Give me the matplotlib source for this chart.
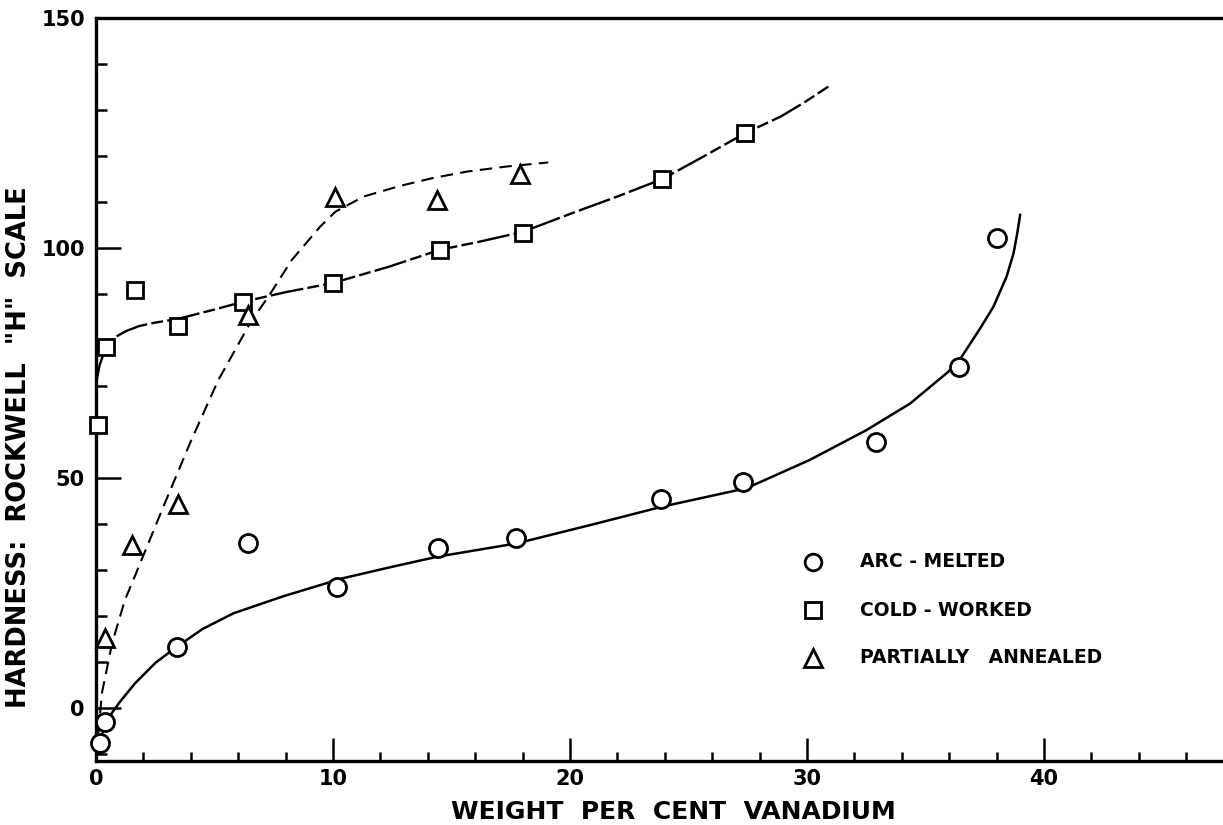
import matplotlib
matplotlib.use("Agg")
import matplotlib.pyplot as plt
from matplotlib.ticker import MultipleLocator

# measured points, weight % V vs Rockwell H hardness
arc_x = [0.15, 0.38, 3.4, 6.4, 10.16, 14.42, 17.72, 23.83, 27.31, 32.9, 36.4, 38.0]
arc_y = [-7.5, -3.0, 13.3, 35.9, 26.4, 34.7, 36.9, 45.4, 49.2, 57.8, 74.1, 102.2]

cold_x = [0.1, 0.42, 1.65, 3.46, 6.2, 10.0, 14.5, 18.0, 23.9, 27.4]
cold_y = [61.5, 78.5, 90.8, 83.0, 88.3, 92.4, 99.6, 103.3, 115.0, 125.0]

ann_x = [0.38, 1.5, 3.46, 6.4, 10.1, 14.4, 17.9]
ann_y = [15.2, 35.4, 44.3, 85.4, 111.0, 110.4, 116.0]

# hand-faired curves through each set
arc_fit_x = [0.05, 0.4, 1.0, 1.65, 2.5, 3.4, 4.5, 5.8, 7.9, 10.4, 12.4, 14.4, 17.75,
             21.1, 23.9, 27.45, 30.1, 32.5, 34.35, 35.96, 36.53, 37.3, 37.86, 38.42,
             38.71, 38.87, 38.99]
arc_fit_y = [-10.0, -3.0, 1.3, 5.4, 9.8, 13.3, 17.2, 20.6, 24.3, 28.2, 30.6, 32.9, 35.8,
             40.1, 43.8, 47.8, 53.9, 60.4, 66.2, 73.1, 76.4, 82.5, 87.2, 93.8,
             98.8, 103.2, 107.2]

cold_fit_x = [0.0, 0.15, 0.42, 0.8, 1.25, 1.8, 2.4, 3.46, 4.9, 6.2, 8.0, 10.0, 12.4,
              14.5, 16.2, 18.0, 20.1, 22.0, 23.9, 25.6, 27.4, 28.9, 29.9, 30.9]
cold_fit_y = [70.5, 74.5, 78.5, 80.6, 81.9, 83.0, 83.7, 84.6, 86.5, 88.3, 90.4, 92.4, 96.0,
              99.6, 101.4, 103.5, 107.6, 111.2, 115.0, 119.8, 125.0, 128.6, 131.7, 135.1]

ann_fit_x = [0.1, 0.25, 0.68, 1.22, 1.57, 2.9, 4.0, 5.16, 6.57, 7.27, 8.26, 9.45, 10.1,
             11.3, 12.83, 14.2, 15.64, 17.3, 19.08]
ann_fit_y = [-5.4, 3.3, 14.1, 23.5, 27.8, 44.5, 58.0, 71.3, 84.3, 89.4, 97.4, 104.6, 107.9,
             111.2, 113.5, 115.2, 116.6, 117.7, 118.6]

x_ticks = [0, 10, 20, 30, 40]
y_ticks = [0, 50, 100, 150]
labels = ["ARC - MELTED", "COLD - WORKED", "PARTIALLY   ANNEALED"]

plt.rcParams['font.family'] = 'DejaVu Sans'
plt.rcParams['font.weight'] = 'bold'

fig = plt.figure(figsize=(12.23, 8.25), dpi=100)
ax = fig.add_axes([0.0785, 0.0776, 0.9215, 0.9006])

ax.plot(arc_fit_x, arc_fit_y, color='black', lw=1.8)
ax.plot(cold_fit_x, cold_fit_y, color='black', lw=1.7, dashes=(14, 1.8, 5, 1.8))
ax.plot(ann_fit_x, ann_fit_y, color='black', lw=1.5, dashes=(6, 3.5))

mk = dict(linestyle='none', markerfacecolor='white', markeredgecolor='black',
          markeredgewidth=2.0, zorder=3, clip_on=False)
ax.plot(arc_x, arc_y, marker='o', markersize=13, **mk)
ax.plot(cold_x, cold_y, marker='s', markersize=12, **mk)
ax.plot(ann_x, ann_y, marker='^', markersize=13, **mk)

# key in the lower right
key_y = [0.268, 0.203, 0.139]
for marker, ms, lab, yy in zip(['o', 's', '^'], [12, 11, 12.5], labels, key_y):
    ax.plot([0.636], [yy], marker=marker, markersize=ms, transform=ax.transAxes, **mk)
    ax.text(0.678, yy, lab, transform=ax.transAxes, va='center', ha='left',
            fontsize=13.5, fontweight='bold')

ax.set_xlim(0, 47.55)
ax.set_ylim(-11.5, 150)
ax.set_xticks(x_ticks)
ax.set_xticklabels([str(v) for v in x_ticks])
ax.xaxis.set_minor_locator(MultipleLocator(2))
ax.set_yticks(y_ticks)
ax.set_yticklabels([str(v) for v in y_ticks])
ax.yaxis.set_minor_locator(MultipleLocator(10))

ax.tick_params(axis='both', which='both', direction='in', width=1.8, colors='black')
ax.tick_params(axis='x', which='major', length=16.5, pad=6, labelsize=15)
ax.tick_params(axis='x', which='minor', length=6.5)
ax.tick_params(axis='y', which='major', length=18, pad=8, labelsize=15)
ax.tick_params(axis='y', which='minor', length=8)
for t in ax.get_xticklabels() + ax.get_yticklabels():
    t.set_fontweight('bold')

for side in ['left', 'bottom', 'top']:
    ax.spines[side].set_linewidth(2.4)
ax.spines['right'].set_visible(False)

ax.set_xlabel('WEIGHT  PER  CENT  VANADIUM', fontsize=18, fontweight='bold')
ax.xaxis.set_label_coords(0.512, -0.052)
ax.set_ylabel('HARDNESS:  ROCKWELL  "H"  SCALE', fontsize=18.5, fontweight='bold')
ax.yaxis.set_label_coords(-0.057, 0.423)

fig.savefig('out.png', dpi=100)
